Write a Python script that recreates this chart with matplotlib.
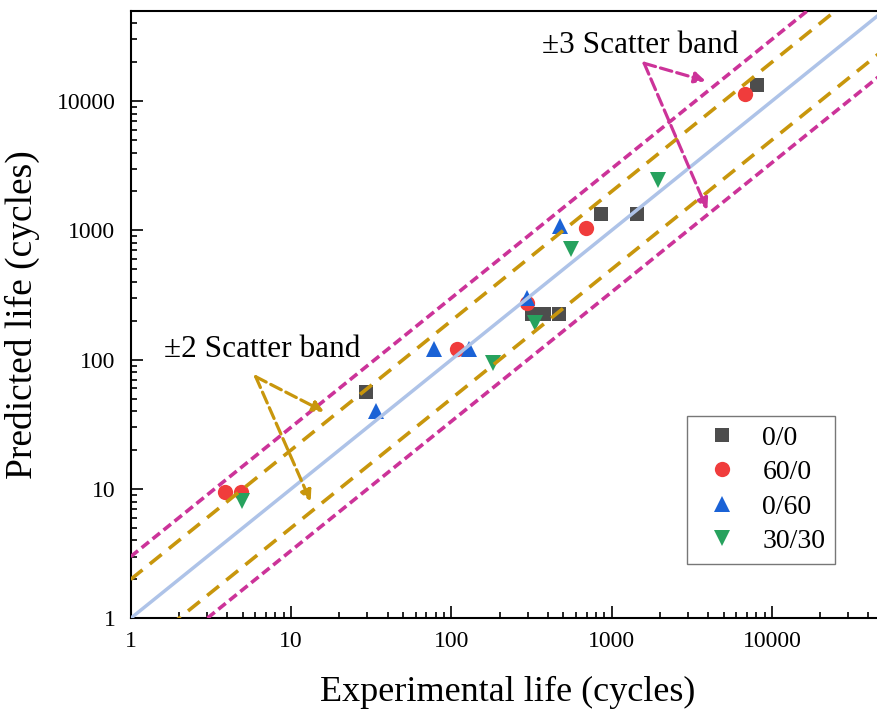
import numpy as np
import matplotlib

matplotlib.use("Agg")
import matplotlib.pyplot as plt
from matplotlib import ticker

plt.rcParams["font.family"] = ["Liberation Serif", "DejaVu Serif"]
plt.rcParams["mathtext.fontset"] = "stix"

# experimental vs predicted life, one pair of lists per loading case
exp_00 = [29.5, 317, 379, 470, 855, 1435, 8110]
pred_00 = [56, 226, 226, 226, 1339, 1339, 13300]
exp_600 = [3.9, 4.9, 109, 298, 689, 6770]
pred_600 = [9.4, 9.4, 122, 273, 1038, 11350]
exp_060 = [33.8, 78, 129, 298, 474]
pred_060 = [40, 122, 120, 298, 1081]
exp_3030 = [4.97, 182, 333, 561, 1955]
pred_3030 = [8.1, 94, 191, 714, 2454]

series_labels = ["0/0", "60/0", "0/60", "30/30"]
band_factors = [2, 3]
line_x = np.array([1.0, 1e5])

W, H = 878, 713
fig = plt.figure(figsize=(W / 100, H / 100), dpi=100)
fig.patch.set_facecolor("white")

# axes box in pixels: left 130.7, bottom 618.3, top 10.7, 160.3 px per x decade
left, bottom, top = 130.7, 618.3, 10.7
width = 160.3 * np.log10(5e4)
ax = fig.add_axes([left / W, (H - bottom) / H, width / W, (bottom - top) / H])
ax.set_xscale("log")
ax.set_yscale("log")
ax.set_xlim(1, 5e4)
ax.set_ylim(1, 5e4)

blue_line = "#aec3e8"
gold = "#c8960c"
magenta = "#cc3399"

ax.plot(line_x, line_x, color=blue_line, lw=2.5, zorder=4)
ax.plot(line_x, line_x * band_factors[0], color=gold, lw=2.6, dashes=(4.2, 2.6), zorder=4)
ax.plot(line_x, line_x / band_factors[0], color=gold, lw=2.6, dashes=(4.2, 2.6), zorder=4)
ax.plot(line_x, line_x * band_factors[1], color=magenta, lw=2.6, dashes=(2.6, 1.3), zorder=4)
ax.plot(line_x, line_x / band_factors[1], color=magenta, lw=2.6, dashes=(2.6, 1.3), zorder=4)

ax.plot(exp_00, pred_00, ls="none", marker="s", ms=10, color="#4d4d4d", mew=0, label=series_labels[0], zorder=3)
ax.plot(exp_600, pred_600, ls="none", marker="o", ms=11, color="#f03c3c", mew=0, label=series_labels[1], zorder=3)
ax.plot(exp_060, pred_060, ls="none", marker="^", ms=12, color="#1a62d6", mew=0, label=series_labels[2], zorder=3)
ax.plot(exp_3030, pred_3030, ls="none", marker="v", ms=12, color="#27a25e", mew=0, label=series_labels[3], zorder=3)

# scatter band callouts
ax.text(366, 23700, "\u00b13 Scatter band", fontsize=22.5, va="baseline", ha="left")
ax.text(1.61, 105.5, "\u00b12 Scatter band", fontsize=22.5, va="baseline", ha="left")

arrow_kw = dict(arrowstyle="-|>", linestyle="--", lw=2.3, mutation_scale=16, shrinkA=0, shrinkB=0)
for end in [(3864, 14300), (3955, 1439)]:
    ax.annotate("", xy=end, xytext=(1596, 19600), arrowprops=dict(color=magenta, **arrow_kw), zorder=5)
for end in [(16.07, 39.6), (13.27, 7.98)]:
    ax.annotate("", xy=end, xytext=(6.02, 73.9), arrowprops=dict(color=gold, **arrow_kw), zorder=5)

fmt = ticker.FuncFormatter(lambda v, _: f"{v:g}")
for axis in (ax.xaxis, ax.yaxis):
    axis.set_major_locator(ticker.LogLocator(base=10, numticks=10))
    axis.set_minor_locator(ticker.LogLocator(base=10, subs=np.arange(2, 10), numticks=20))
    axis.set_major_formatter(fmt)
    axis.set_minor_formatter(ticker.NullFormatter())

ax.tick_params(which="both", direction="in", top=False, right=False, width=1.2, labelsize=17)
ax.tick_params(which="major", length=8.5)
ax.tick_params(which="minor", length=4.3)
ax.tick_params(axis="x", which="major", pad=9)
ax.tick_params(axis="y", which="major", pad=11)
for side in ("left", "bottom", "top"):
    ax.spines[side].set_linewidth(1.5)
ax.spines["right"].set_visible(False)

ax.set_xlabel("Experimental life (cycles)", fontsize=26, labelpad=17)
ax.set_ylabel("Predicted life (cycles)", fontsize=27, labelpad=12)

leg = ax.legend(
    loc="upper left",
    bbox_to_anchor=(687.3 / W, 1 - 415.7 / H),
    bbox_transform=fig.transFigure,
    fontsize=20,
    frameon=True,
    fancybox=False,
    edgecolor="#555555",
    borderpad=0.35,
    handlelength=1.8,
    handletextpad=0.55,
    labelspacing=0.32,
    borderaxespad=0,
)
leg.get_frame().set_linewidth(1.0)

fig.savefig("out.png", dpi=100)
